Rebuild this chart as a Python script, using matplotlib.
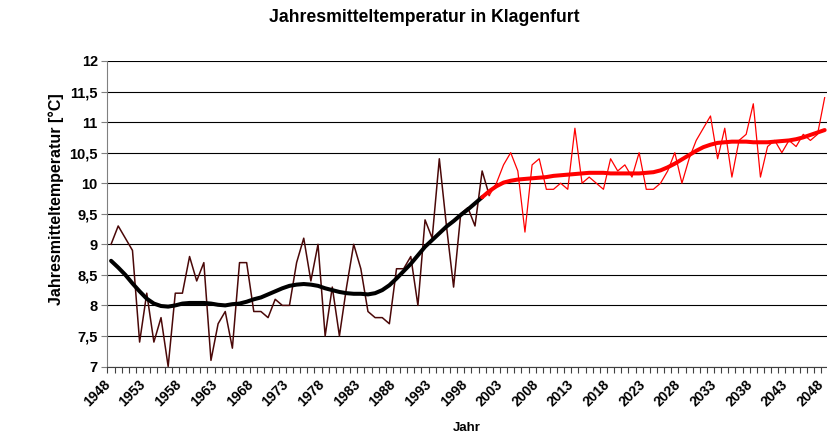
import matplotlib.pyplot as plt
import matplotlib.transforms as mtransforms
import numpy as np

plt.rcParams['font.family'] = ['Liberation Sans', 'DejaVu Sans']
plt.rcParams['font.weight'] = 'bold'

# measured annual means 1948-2001
years_meas = list(range(1948, 2002))
temp_meas = [9.0, 9.3, 9.1, 8.9, 7.4, 8.2, 7.4, 7.8, 7.0, 8.2,
             8.2, 8.8, 8.4, 8.7, 7.1, 7.7, 7.9, 7.3, 8.7, 8.7,
             7.9, 7.9, 7.8, 8.1, 8.0, 8.0, 8.7, 9.1, 8.4, 9.0,
             7.5, 8.3, 7.5, 8.3, 9.0, 8.6, 7.9, 7.8, 7.8, 7.7,
             8.6, 8.6, 8.8, 8.0, 9.4, 9.1, 10.4, 9.3, 8.3, 9.5,
             9.6, 9.3, 10.2, 9.8]

# scenario values 2001-2048
years_scen = list(range(2001, 2049))
temp_scen = [9.8, 10.0, 10.3, 10.5, 10.2, 9.2, 10.3, 10.4, 9.9, 9.9,
             10.0, 9.9, 10.9, 10.0, 10.1, 10.0, 9.9, 10.4, 10.2, 10.3,
             10.1, 10.5, 9.9, 9.9, 10.0, 10.2, 10.5, 10.0, 10.4, 10.7,
             10.9, 11.1, 10.4, 10.9, 10.1, 10.7, 10.8, 11.3, 10.1, 10.6,
             10.7, 10.5, 10.7, 10.6, 10.8, 10.7, 10.8, 11.4]

# smoothed curves
years_smooth_meas = list(range(1948, 2001))
smooth_meas = [8.73, 8.62, 8.50, 8.36, 8.23, 8.11, 8.03, 7.99, 7.98, 8.00,
               8.03, 8.04, 8.04, 8.04, 8.03, 8.01, 8.00, 8.02, 8.03, 8.06,
               8.10, 8.13, 8.18, 8.23, 8.28, 8.32, 8.34, 8.35, 8.34, 8.32,
               8.28, 8.25, 8.22, 8.20, 8.19, 8.19, 8.18, 8.20, 8.25, 8.33,
               8.44, 8.56, 8.68, 8.82, 8.96, 9.07, 9.18, 9.29, 9.38, 9.48,
               9.57, 9.67, 9.77]

years_smooth_scen = list(range(2000, 2049))
smooth_scen = [9.77, 9.87, 9.95, 10.01, 10.04, 10.06, 10.07, 10.08, 10.09, 10.10,
               10.12, 10.13, 10.14, 10.15, 10.16, 10.17, 10.17, 10.17, 10.16, 10.16,
               10.16, 10.16, 10.16, 10.17, 10.18, 10.21, 10.26, 10.32, 10.39, 10.46,
               10.53, 10.59, 10.63, 10.66, 10.67, 10.68, 10.68, 10.68, 10.67, 10.67,
               10.67, 10.68, 10.69, 10.70, 10.72, 10.75, 10.79, 10.83, 10.87]

label_years = list(range(1948, 2049, 5))
yticks = [7, 7.5, 8, 8.5, 9, 9.5, 10, 10.5, 11, 11.5, 12]

fig = plt.figure(figsize=(8.28, 4.34), dpi=100)
# plot area runs past the right edge (chart is cut off there)
ax = fig.add_axes([107.5/828, 67.5/434, 735/828, 305.5/434])

ax.plot(years_meas, temp_meas, color='#4a0808', lw=1.1)
ax.plot(years_scen, temp_scen, color='#ff0000', lw=0.9)
ax.plot(years_smooth_meas, smooth_meas, color='black', lw=2.9, solid_capstyle='round')
ax.plot(years_smooth_scen, smooth_scen, color='#ff0000', lw=2.9, solid_capstyle='round')

ax.set_xlim(1947.5, 2050.5)
ax.set_ylim(7, 12)
ax.set_yticks(yticks)
ax.set_yticklabels([f'{v:g}'.replace('.', ',') for v in yticks])
ax.yaxis.grid(True, color='black', lw=0.8)
ax.set_axisbelow(True)

ax.set_xticks(label_years)
ax.set_xticklabels([str(y) for y in label_years], rotation=45, ha='right',
                   va='top', rotation_mode='anchor')
ax.set_xticks(np.arange(1947.5, 2051, 1), minor=True)
ax.tick_params(axis='x', which='major', length=0, pad=8, labelsize=10)
ax.tick_params(axis='x', which='minor', length=4, color='#404040', width=0.8)
ax.tick_params(axis='y', length=4, color='#808080', width=0.8, labelsize=10.5, pad=3)

# shift the rotated year labels a little to the left, like the original
shift = mtransforms.ScaledTranslation(-8/100, 0, fig.dpi_scale_trans)
for lab in ax.get_xticklabels():
    lab.set_transform(lab.get_transform() + shift)

for s in ['top', 'right']:
    ax.spines[s].set_visible(False)
ax.spines['left'].set_color('#808080')
ax.spines['bottom'].set_color('#404040')

fig.text(424/828, 1 - 18/434, 'Jahresmitteltemperatur in Klagenfurt',
         ha='center', va='center', fontsize=12.7, fontweight='bold')
fig.text(56/828, 1 - 199/434, 'Jahresmitteltemperatur [°C]', rotation=90,
         ha='center', va='center', fontsize=11.5, fontweight='bold')
fig.text(467/828, 1 - 428/434, 'Jahr', ha='center', va='center',
         fontsize=9.5, fontweight='bold')

fig.savefig('out.png', dpi=100)
